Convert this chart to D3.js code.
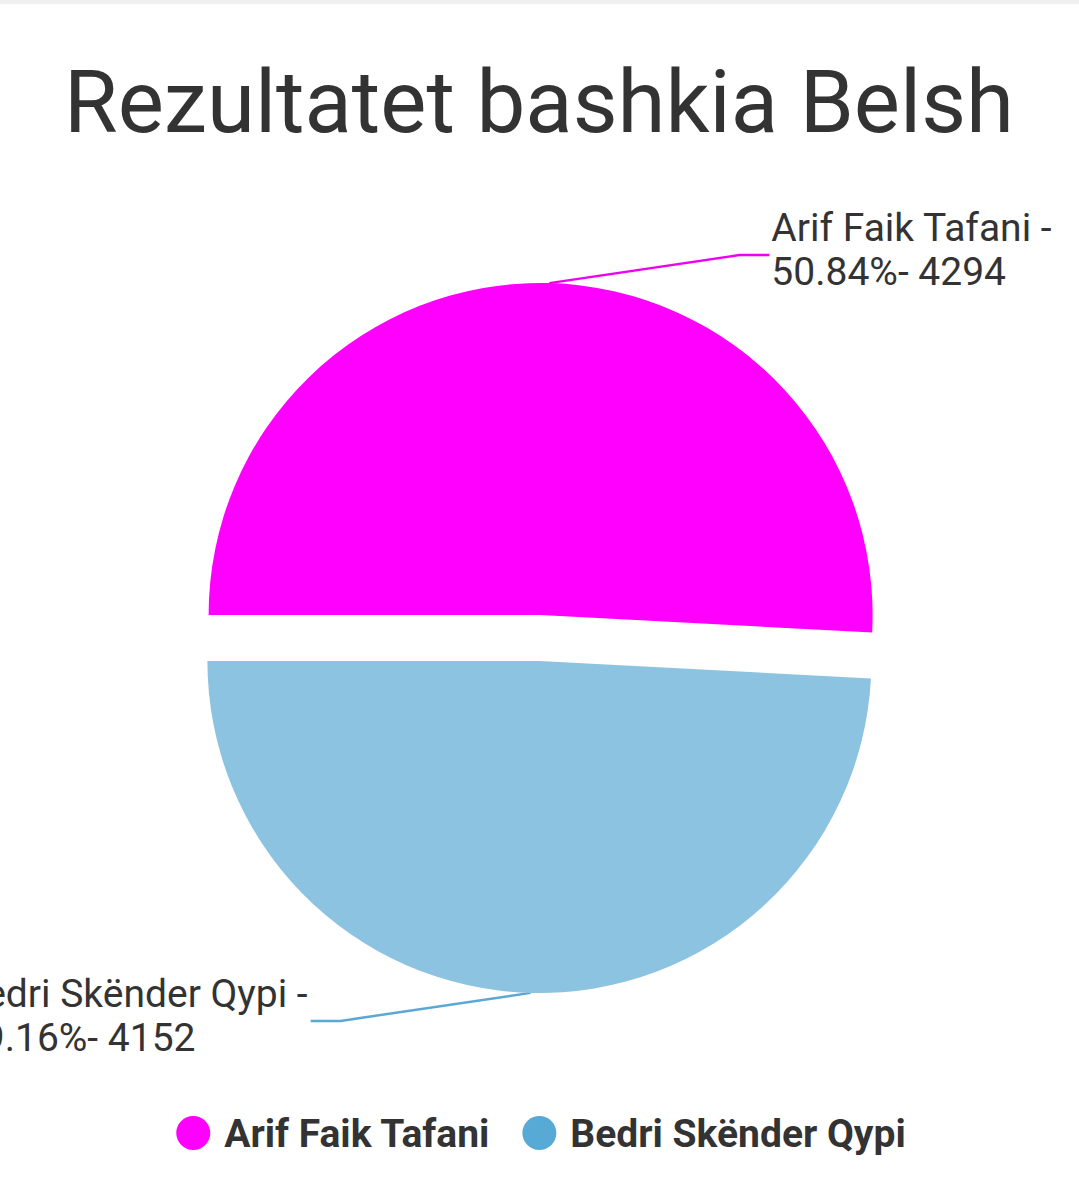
<!DOCTYPE html>
<meta charset="utf-8">
<html>
<head>
  <title>Rezultatet bashkia Belsh</title>
  <script src="https://d3js.org/d3.v7.min.js"></script>
  <style>
    body { margin: 0; background: #fff; font-family: Roboto, "Noto Sans", sans-serif; }
    svg { display: block; }
    text { fill: #333; }
  </style>
</head>
<body>
<div id="chart"></div>
<script>
  // data
  var candidates = ["Arif Faik Tafani", "Bedri Skënder Qypi"];
  var votes = [4294, 4152];
  var title = "Rezultatet bashkia Belsh";

  var sliceColors = ["#ff00ff", "#8bc3e1"];
  var markColors = ["#ff00ff", "#57a9d6"];

  var width = 1079, height = 1183;
  var cx = 540, cy = 638, radius = 332, explode = 23;

  var svg = d3.select("#chart").append("svg")
    .attr("width", width)
    .attr("height", height);

  svg.append("rect")
    .attr("x", 0).attr("y", 0)
    .attr("width", width).attr("height", 4)
    .attr("fill", "#f0f0f0");

  svg.append("text")
    .attr("x", 539)
    .attr("y", 132)
    .attr("text-anchor", "middle")
    .style("font-size", "87px")
    .text(title);

  var data = candidates.map(function(c, i) { return {name: c, value: votes[i], i: i}; });
  var total = d3.sum(votes);
  var fmt = d3.format(".2f");

  var pie = d3.pie()
    .sort(null)
    .value(function(d) { return d.value; })
    .startAngle(-Math.PI / 2)
    .endAngle(Math.PI * 1.5);

  var arc = d3.arc().innerRadius(0).outerRadius(radius);

  function midAngle(d) { return (d.startAngle + d.endAngle) / 2; }

  var g = svg.append("g").attr("transform", "translate(" + cx + "," + cy + ")");
  var arcs = pie(data);

  // connector lines
  g.selectAll("polyline")
    .data(arcs)
    .enter().append("polyline")
    .attr("fill", "none")
    .attr("stroke-width", 2.5)
    .attr("stroke", function(d) { return d.data.i == 0 ? "#ee00ee" : "#5aa8d6"; })
    .attr("points", function(d) {
      var a = midAngle(d);
      var ox = Math.sin(a) * explode, oy = -Math.cos(a) * explode;
      var p0 = [ox + Math.sin(a) * radius, oy - Math.cos(a) * radius];
      var up = Math.cos(a) > 0 ? 1 : -1;
      var p1 = [p0[0] + up * 190, p0[1] - up * 28];
      var p2 = [p1[0] + up * 30, p1[1]];
      d.labelPos = p2;
      d.side = up;
      return [p0, p1, p2];
    });

  g.selectAll("path.slice")
    .data(arcs)
    .enter().append("path")
    .attr("class", "slice")
    .attr("fill", function(d) { return sliceColors[d.data.i]; })
    .attr("transform", function(d) {
      var a = midAngle(d);
      return "translate(" + (Math.sin(a) * explode) + "," + (-Math.cos(a) * explode) + ")";
    })
    .attr("d", arc);

  // labels: two lines, left aligned inside the block
  g.selectAll("text.label")
    .data(arcs)
    .enter().append("text")
    .attr("class", "label")
    .style("font-size", "39px")
    .each(function(d) {
      var t = d3.select(this);
      var l1 = t.append("tspan")
        .attr("y", d.labelPos[1] - 14)
        .text(d.data.name + " -");
      var l2 = t.append("tspan")
        .attr("y", d.labelPos[1] + 30)
        .text(fmt(d.data.value / total * 100) + "%- " + d.data.value);
      var w = Math.max(l1.node().getComputedTextLength(), l2.node().getComputedTextLength());
      var x = d.side > 0 ? d.labelPos[0] + 2 : d.labelPos[0] - 3 - w;
      l1.attr("x", x);
      l2.attr("x", x);
    });

  // legend
  var legend = svg.append("g").attr("class", "legend");
  var lx = 0;
  var items = legend.selectAll("g")
    .data(data)
    .enter().append("g");
  items.each(function(d) {
    var item = d3.select(this);
    item.attr("transform", "translate(" + lx + ",0)");
    item.append("circle")
      .attr("cx", 17).attr("cy", 0).attr("r", 17)
      .attr("fill", markColors[d.i]);
    var t = item.append("text")
      .attr("x", 48).attr("y", 14)
      .style("font-size", "39px")
      .style("font-weight", "bold")
      .text(d.name);
    lx += 48 + t.node().getComputedTextLength() + 33;
  });
  var legendWidth = lx - 33;
  legend.attr("transform", "translate(" + (541 - legendWidth / 2) + ",1133)");
</script>
</body>
</html>
